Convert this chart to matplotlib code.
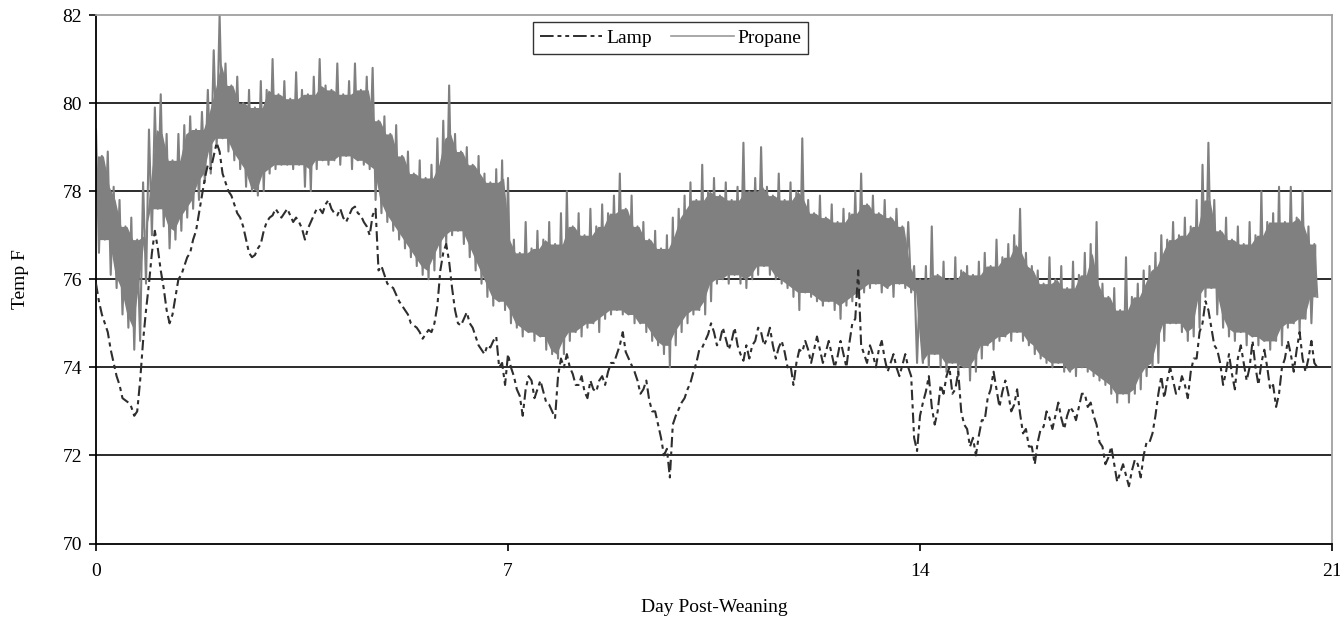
import numpy as np
import matplotlib
matplotlib.use("Agg")
import matplotlib.pyplot as plt
from matplotlib.lines import Line2D

# Samples every 0.1 day; "hi"/"a" at t, "lo"/"b" at t + 0.05 day
propane_hi = [
    79.4, 78.8, 78.9, 78.1, 77.8, 77.2, 77.4, 76.9, 78.2, 79.4,
    79.9, 80.2, 79.3, 78.7, 79.3, 79.5, 79.7, 79.4, 79.8, 80.3,
    81.2, 82.0, 80.9, 80.4, 80.6, 80.0, 80.3, 79.9, 80.5, 80.3,
    81.0, 80.2, 80.5, 80.1, 80.7, 80.3, 80.2, 80.6, 81.0, 80.4,
    80.3, 80.9, 80.2, 80.5, 80.9, 80.3, 80.6, 80.8, 79.6, 79.7,
    79.3, 79.5, 78.8, 78.9, 78.4, 78.7, 78.3, 78.6, 79.2, 79.6,
    80.4, 79.3, 78.9, 79.0, 78.6, 78.8, 78.4, 78.2, 78.5, 78.7,
    78.3, 76.9, 76.6, 77.3, 76.7, 77.1, 76.9, 77.3, 76.8, 77.5,
    78.0, 77.2, 77.5, 77.0, 77.6, 77.2, 77.7, 77.5, 77.9, 78.4,
    77.6, 77.9, 77.2, 77.3, 76.9, 77.1, 76.7, 77.0, 77.4, 77.6,
    77.9, 78.2, 77.8, 78.6, 78.0, 78.3, 77.9, 78.2, 77.8, 78.1,
    79.1, 78.0, 78.3, 79.0, 78.1, 77.9, 78.4, 77.8, 78.2, 78.0,
    79.2, 77.8, 77.5, 77.9, 77.4, 77.7, 77.3, 77.6, 77.5, 78.0,
    78.4, 77.7, 77.9, 77.5, 77.8, 77.4, 77.6, 77.2, 77.3, 76.3,
    76.0, 76.3, 77.2, 76.1, 76.4, 76.0, 76.5, 76.2, 76.3, 76.1,
    76.4, 76.6, 76.3, 76.9, 76.5, 76.8, 77.0, 77.6, 76.6, 76.3,
    76.2, 75.9, 76.5, 76.0, 76.3, 75.8, 76.4, 76.1, 76.6, 76.8,
    77.3, 75.9, 75.6, 75.8, 75.3, 76.5, 75.6, 75.9, 76.2, 76.3,
    76.6, 77.0, 76.9, 77.3, 77.0, 77.4, 77.2, 77.8, 78.6, 79.1,
    77.8, 77.1, 77.4, 76.9, 77.2, 76.8, 77.3, 77.0, 78.0, 77.3,
    77.5, 78.1, 77.3, 78.1, 77.4, 78.0, 77.2, 76.8,
]
propane_lo = [
    76.6, 76.9, 76.1, 75.8, 75.2, 74.9, 74.4, 74.6, 75.9, 77.0,
    77.6, 77.2, 76.7, 76.9, 77.1, 77.4, 77.6, 77.8, 78.2, 78.4,
    79.0, 79.2, 78.9, 78.7, 78.5, 78.1, 78.0, 77.9, 78.0, 78.4,
    78.5, 78.6, 78.6, 78.5, 78.6, 78.1, 78.0, 78.5, 78.7, 78.6,
    78.7, 78.6, 78.8, 78.5, 78.7, 78.6, 78.5, 77.8, 77.5, 77.3,
    77.1, 76.9, 76.7, 76.5, 76.3, 76.1, 76.0, 76.2, 76.5, 76.8,
    77.0, 77.1, 76.8, 76.5, 76.2, 75.9, 75.6, 75.4, 75.5, 75.3,
    75.0, 74.9, 74.7, 74.8, 74.6, 74.7, 74.4, 74.3, 74.2, 74.3,
    74.6, 74.8, 74.7, 74.9, 75.0, 74.8, 75.1, 75.2, 75.3, 75.2,
    75.2, 75.0, 75.0, 74.8, 74.6, 74.5, 74.3, 74.0, 74.5, 74.8,
    75.0, 75.2, 75.3, 75.2, 75.5, 75.9, 76.0, 75.9, 76.1, 75.9,
    75.8, 76.0, 76.1, 76.3, 76.1, 76.0, 75.9, 75.8, 75.6, 75.3,
    75.7, 75.6, 75.5, 75.4, 75.5, 75.3, 75.1, 75.4, 75.5, 75.6,
    75.7, 75.8, 75.9, 75.7, 75.8, 75.6, 75.9, 75.8, 75.7, 74.1,
    74.1, 74.0, 74.3, 74.0, 73.9, 74.1, 73.8, 74.0, 73.7, 73.9,
    74.2, 74.5, 74.4, 74.6, 74.7, 74.6, 74.8, 74.6, 74.5, 74.3,
    74.2, 74.1, 74.0, 74.1, 73.9, 73.9, 73.8, 74.0, 73.9, 73.8,
    73.7, 73.6, 73.4, 73.2, 73.4, 73.2, 73.4, 73.5, 73.8, 74.0,
    74.1, 74.6, 75.0, 75.0, 74.8, 74.6, 74.7, 74.9, 75.6, 75.8,
    75.2, 74.9, 74.7, 74.6, 74.8, 74.5, 74.7, 74.5, 74.6, 74.4,
    74.6, 74.5, 74.9, 75.0, 74.8, 75.1, 75.0, 75.6,
]
lamp_a = [
    75.9, 75.2, 74.8, 74.1, 73.6, 73.25, 73.1, 73.0, 74.6, 75.9,
    77.1, 76.2, 75.3, 75.2, 76.0, 76.3, 76.6, 77.1, 77.9, 78.6,
    78.8, 78.9, 78.2, 77.9, 77.5, 77.2, 76.6, 76.55, 76.8, 77.3,
    77.45, 77.5, 77.5, 77.45, 77.4, 77.15, 77.15, 77.45, 77.6, 77.7,
    77.6, 77.45, 77.4, 77.45, 77.65, 77.45, 77.2, 77.45, 76.2, 76.1,
    75.85, 75.65, 75.4, 75.2, 74.95, 74.8, 74.75, 74.8, 75.4, 76.6,
    76.4, 75.3, 74.95, 75.25, 74.9, 74.5, 74.3, 74.45, 74.7, 74.1,
    74.3, 73.8, 73.35, 73.5, 73.7, 73.5, 73.45, 73.15, 72.85, 74.2,
    74.3, 73.85, 73.6, 73.45, 73.7, 73.45, 73.8, 73.9, 74.1, 74.5,
    74.35, 74.05, 73.7, 73.5, 73.25, 73.0, 72.4, 72.15, 72.7, 73.05,
    73.3, 73.65, 74.1, 74.45, 74.75, 74.8, 74.6, 74.65, 74.6, 74.5,
    74.15, 74.2, 74.6, 74.8, 74.65, 74.5, 74.45, 74.35, 74.05, 74.1,
    74.35, 74.4, 74.4, 74.4, 74.35, 74.3, 74.25, 74.3, 74.55, 75.1,
    74.5, 74.1, 74.3, 74.4, 74.2, 74.1, 74.0, 74.05, 74.0, 72.4,
    72.9, 73.45, 73.1, 73.0, 73.4, 74.0, 73.5, 73.0, 72.6, 72.4,
    72.45, 72.8, 73.5, 73.5, 73.45, 73.4, 73.15, 72.95, 72.6, 72.2,
    72.3, 72.65, 72.85, 72.9, 72.85, 72.9, 73.0, 73.1, 73.4, 73.2,
    72.7, 72.2, 71.95, 71.8, 71.6, 71.55, 71.65, 71.8, 72.0, 72.3,
    72.9, 73.8, 73.7, 73.7, 73.5, 73.6, 73.9, 74.2, 75.0, 75.3,
    74.5, 74.1, 73.9, 73.85, 74.2, 74.1, 74.0, 74.0, 74.1, 74.0,
    73.6, 73.4, 74.2, 74.3, 74.4, 74.2, 74.2, 74.1,
]
lamp_b = [
    75.5, 75.0, 74.4, 73.8, 73.3, 73.2, 72.9, 73.7, 75.3, 76.6,
    76.7, 75.8, 75.0, 75.6, 76.1, 76.5, 76.9, 77.5, 78.3, 78.5,
    79.1, 78.4, 78.0, 77.7, 77.4, 76.9, 76.5, 76.7, 77.1, 77.4,
    77.6, 77.4, 77.6, 77.3, 77.3, 76.9, 77.3, 77.6, 77.5, 77.8,
    77.5, 77.6, 77.3, 77.6, 77.5, 77.3, 77.0, 77.6, 76.3, 75.9,
    75.8, 75.5, 75.3, 75.0, 74.9, 74.65, 74.85, 75.0, 76.2, 76.8,
    75.8, 75.0, 75.1, 75.0, 74.7, 74.4, 74.5, 74.6, 74.0, 73.6,
    74.0, 73.5, 72.9, 73.8, 73.3, 73.7, 73.2, 73.0, 73.8, 74.0,
    74.0, 73.6, 73.8, 73.3, 73.5, 73.7, 73.6, 74.1, 74.3, 74.8,
    74.2, 73.9, 73.4, 73.7, 73.0, 72.7, 72.0, 71.5, 72.9, 73.2,
    73.5, 73.9, 74.4, 74.6, 75.0, 74.5, 74.9, 74.4, 74.9, 74.3,
    74.5, 74.5, 74.9, 74.5, 74.9, 74.2, 74.6, 74.0, 73.6, 74.4,
    74.6, 74.1, 74.7, 74.1, 74.6, 74.0, 74.6, 74.0, 75.0, 76.2,
    74.3, 74.5, 74.0, 74.6, 73.9, 74.3, 73.8, 74.3, 73.8, 72.1,
    73.2, 73.8, 72.7, 73.6, 73.8, 73.4, 73.9, 72.7, 72.2, 72.0,
    72.8, 73.3, 73.9, 73.1, 73.7, 73.0, 73.5, 72.5, 72.2, 71.8,
    72.6, 73.0, 72.6, 73.2, 72.6, 73.1, 72.8, 73.4, 73.1, 72.9,
    72.3, 71.8, 72.2, 71.4, 71.8, 71.3, 71.9, 71.5, 72.3, 72.5,
    73.4, 73.3, 74.0, 73.4, 73.8, 73.3, 74.2, 74.8, 75.5, 74.9,
    74.4, 73.6, 74.3, 73.5, 74.5, 73.7, 74.6, 73.6, 74.4, 73.5,
    73.1, 74.0, 74.6, 73.9, 74.8, 73.9, 74.6, 74.0,
]
x_ticks = [0, 7, 14, 21]
y_ticks = [70, 72, 74, 76, 78, 80, 82]
series_names = ["Lamp", "Propane"]

step = 0.1
days = np.arange(len(propane_hi)) * step
hi = np.array(propane_hi)
lo = np.array(propane_lo)


def interleave(a, b):
    out = np.empty(len(a) * 2)
    out[0::2] = a
    out[1::2] = b
    return out


def neighbor_min(v):
    p = np.pad(v, 1, mode="edge")
    return np.minimum(np.minimum(p[:-2], p[1:-1]), p[2:])


def neighbor_max(v):
    p = np.pad(v, 1, mode="edge")
    return np.maximum(np.maximum(p[:-2], p[1:-1]), p[2:])


tx = interleave(days, days + step / 2)
prop_y = interleave(hi, lo)
lamp_y = interleave(np.array(lamp_a), np.array(lamp_b))

# dense core of the propane band (between the inner envelopes of the readings)
core_top = neighbor_min(hi)
core_bot = neighbor_max(lo)
core_top = np.maximum(core_top, core_bot)

plt.rcParams['font.family'] = ['Liberation Serif', 'DejaVu Serif']

fig = plt.figure(figsize=(13.4, 6.2), dpi=100)
ax = fig.add_axes([96 / 1340, 1 - 543.5 / 620, (1332 - 96) / 1340, (543.5 - 15) / 620])

prop_color = "#808080"
lamp_color = "#2e2e2e"

for yv in [72, 74, 76, 78, 80]:
    ax.axhline(yv, color="#1a1a1a", lw=1.3, zorder=1)

ax.fill_between(days + step / 4, core_bot, core_top, color=prop_color, lw=0, zorder=2)
ax.plot(tx, prop_y, color=prop_color, lw=1.5, zorder=2)
ax.plot(tx, lamp_y, color=lamp_color, lw=1.5, zorder=3,
        linestyle=(0, (5, 2, 2, 2)))

ax.set_xlim(0, 21)
ax.set_ylim(70, 82)
ax.set_xticks(x_ticks)
ax.set_yticks(y_ticks)
ax.tick_params(axis="both", direction="out", length=5, width=1.2, labelsize=14, colors="black")
ax.tick_params(axis="x", pad=9)
ax.tick_params(axis="y", pad=5)

for s in ["left", "bottom"]:
    ax.spines[s].set_color("black")
    ax.spines[s].set_linewidth(1.3)
for s in ["top", "right"]:
    ax.spines[s].set_color("#a0a0a0")
    ax.spines[s].set_linewidth(1.3)

ax.set_xlabel("Day Post-Weaning", fontsize=14, labelpad=14)
ax.set_ylabel("Temp F", fontsize=14, labelpad=24)

handles = [
    Line2D([], [], color=lamp_color, lw=1.4, linestyle=(0, (7, 2, 2, 2, 2, 2))),
    Line2D([], [], color="#9a9a9a", lw=1.2),
]
leg = ax.legend(handles, series_names, loc="upper center", bbox_to_anchor=(0.465, 0.986),
                ncol=2, frameon=True, fancybox=False, shadow=False, fontsize=14,
                handlelength=3.2, handletextpad=0.2, columnspacing=1.0,
                borderpad=0.35, borderaxespad=0)
leg.get_frame().set_edgecolor("black")
leg.get_frame().set_linewidth(1.0)

fig.savefig("out.png", dpi=100)
